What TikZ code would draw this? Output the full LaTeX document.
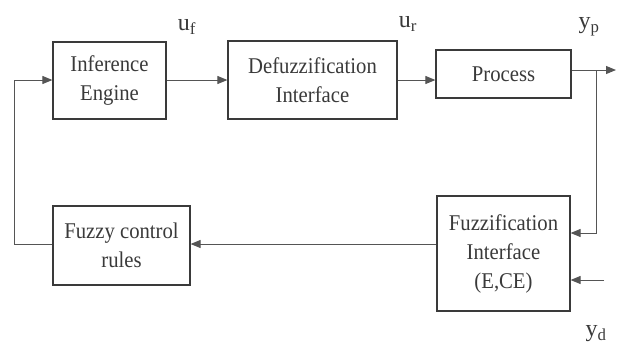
\documentclass[tikz,border=0pt]{standalone}
\usepackage{fontspec}
\setmainfont{Liberation Serif}
\newfontfamily\boxfont{Liberation Serif}[FakeStretch=0.92]
\usetikzlibrary{arrows.meta}
\definecolor{ink}{HTML}{3A3A3A}
\definecolor{wire}{HTML}{555555}
\begin{document}
\begin{tikzpicture}[x=1pt,y=-1pt,
  blk/.style={draw=ink,line width=1.2pt,rectangle,inner sep=0pt,align=center,
    text=ink,font=\boxfont\fontsize{22.5}{29}\selectfont},
  conn/.style={draw=wire,line width=1pt},
  arr/.style={conn,-{Triangle[length=10pt,width=8pt]}},
  lbl/.style={text=ink,font=\rmfamily\fontsize{24}{26}\selectfont,inner sep=0pt}]
\useasboundingbox[fill=white] (0,0) rectangle (622,346);
\node[blk,minimum width=113pt,minimum height=77pt] (inf) at (109.5,80.5) {Inference\\Engine};
\node[blk,minimum width=169pt,minimum height=78pt] (def) at (312.5,80) {Defuzzification\\Interface};
\node[blk,minimum width=135pt,minimum height=48pt] (proc) at (503.5,74) {Process};
\node[blk,minimum width=137pt,minimum height=79pt] (rules) at (121.5,245.5) {Fuzzy control\\rules};
\node[blk,minimum width=133pt,minimum height=115pt] (fuz) at (503.5,253.5) {Fuzzification\\Interface\\(E,CE)};
\coordinate (out) at (616,70);
\coordinate (br) at (596,70);
\coordinate (yd) at (604,280);
\coordinate (lt) at (14,80);
\coordinate (lb) at (14,244);
\draw[arr] (inf.east |- 0,80) -- (def.west |- 0,80);
\draw[arr] (def.east |- 0,80) -- (proc.west |- 0,80);
\draw[arr] (proc.east |- 0,70) -- (out);
\draw[arr] (br) -- (br |- 0,233) -- (fuz.east |- 0,233);
\draw[arr] (yd) -- (fuz.east |- yd);
\draw[arr] (fuz.west |- 0,244) -- (rules.east |- 0,244);
\draw[arr] (rules.west |- lb) -- (lb) -- (lt) -- (inf.west |- lt);
\node[lbl] (uf) at (187,27) {u\textsubscript{f}};
\node[lbl] (ur) at (408,24) {u\textsubscript{r}};
\node[lbl] (yp) at (589,27) {y\textsubscript{p}};
\node[lbl] (ydl) at (596,334) {y\textsubscript{d}};
\end{tikzpicture}
\end{document}
